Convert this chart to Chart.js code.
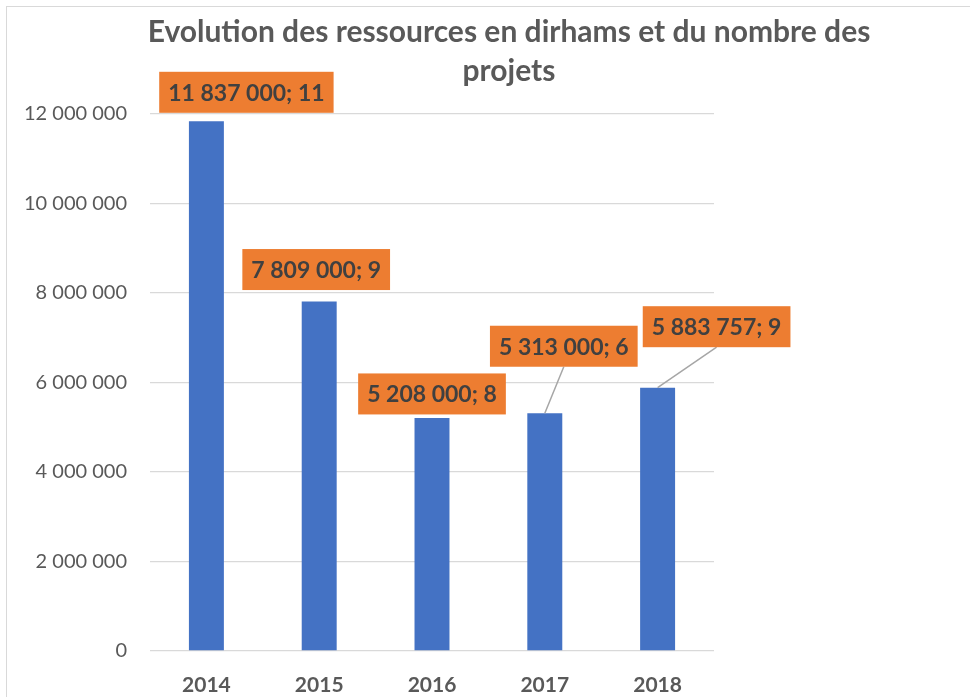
<!DOCTYPE html>
<html>
<head>
<meta charset="utf-8">
<script src="https://cdn.jsdelivr.net/npm/chart.js@4.4.0/dist/chart.umd.min.js"></script>
<style>
  html, body { margin: 0; background: #fff; overflow: hidden; }
  #frame { position: absolute; left: 6px; top: 6px; width: 1004px; height: 720px; border: 1px solid #d9d9d9; }
</style>
</head>
<body>
<div id="frame"><canvas id="chart" width="1004" height="720"></canvas></div>
<script>
// Data
const years = ['2014', '2015', '2016', '2017', '2018'];
const resources = [11837000, 7809000, 5208000, 5313000, 5883757];
const projects = [11, 9, 8, 6, 9];
const yMin = 0;
const yMax = 12000000;
const yStep = 2000000;

// where each orange label sits, relative to the top of its bar (px)
const labelShiftX = [40, -3, 0, 19, 59];
const labelShiftY = [-29, -32, -24, -67, -61];

function spaced(v) {
    return String(v).replace(/\B(?=(\d{3})+(?!\d))/g, ' ');
}

// Draw the "value; count" boxes with leader lines
const barLabels = {
    id: 'barLabels',
    afterDatasetsDraw(chart) {
        const ctx = chart.ctx;
        const meta = chart.getDatasetMeta(0);
        ctx.save();
        ctx.font = 'bold 23px Lato';
        ctx.textAlign = 'center';
        ctx.textBaseline = 'middle';
        meta.data.forEach((bar, i) => {
            const text = spaced(resources[i]) + '; ' + projects[i];
            const w = ctx.measureText(text).width + 18;
            const h = 41;
            const cx = bar.x + labelShiftX[i];
            const cy = bar.y + labelShiftY[i];
            if (bar.y - (cy + h / 2) > 20) {
                ctx.strokeStyle = '#a6a6a6';
                ctx.lineWidth = 1.5;
                ctx.beginPath();
                ctx.moveTo(cx, cy + h / 2);
                ctx.lineTo(bar.x, bar.y);
                ctx.stroke();
            }
            ctx.fillStyle = '#ed7d31';
            ctx.fillRect(cx - w / 2, cy - h / 2, w, h);
            ctx.fillStyle = '#404040';
            ctx.fillText(text, cx, cy + 1);
        });
        ctx.restore();
    }
};

const config = {
    type: 'bar',
    data: {
        labels: years,
        datasets: [{
            label: 'Ressources',
            data: resources,
            backgroundColor: '#4472c4',
            barPercentage: 0.31,
            categoryPercentage: 1
        }]
    },
    options: {
        responsive: false,
        animation: false,
        layout: { padding: 0 },
        plugins: {
            legend: { display: false },
            tooltip: { enabled: false },
            title: {
                display: true,
                text: ['Evolution des ressources en dirhams et du nombre des', 'projets'],
                color: '#595959',
                font: { family: 'Lato', size: 30, weight: 'bold', lineHeight: 1.3 },
                padding: { top: 6, bottom: 23 }
            }
        },
        scales: {
            x: {
                grid: { display: false },
                border: { display: false },
                ticks: {
                    color: '#595959',
                    font: { family: 'Lato', size: 21, weight: 'bold' },
                    padding: 14
                },
                afterFit(scale) { scale.height = 76; }
            },
            y: {
                min: yMin,
                max: yMax,
                grid: { color: '#d9d9d9', lineWidth: 1.3, drawTicks: false },
                border: { display: false },
                ticks: {
                    stepSize: yStep,
                    color: '#595959',
                    font: { family: 'Lato', size: 20 },
                    padding: 23,
                    callback: v => spaced(v)
                },
                afterFit(scale) { scale.width = 143; }
            },
            // empty right-hand space of the chart frame
            side: {
                position: 'right',
                grid: { display: false },
                border: { display: false },
                ticks: { display: false },
                afterFit(scale) { scale.width = 297; }
            }
        }
    },
    plugins: [barLabels]
};

new Chart(document.getElementById('chart'), config);
</script>
</body>
</html>
